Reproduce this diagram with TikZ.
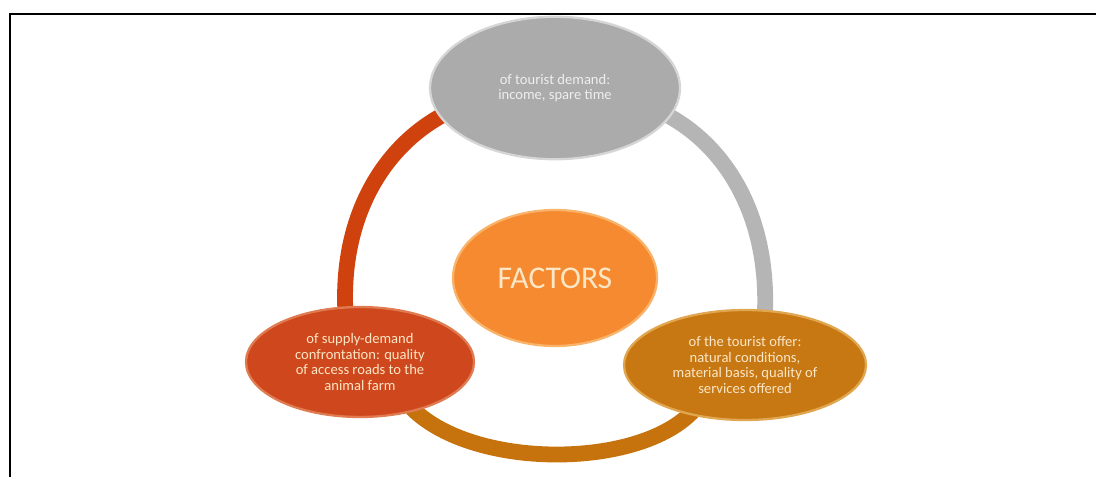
\documentclass[tikz,border=0pt]{standalone}
\usepackage{fontspec}
\setmainfont{Carlito}
\usetikzlibrary{shapes.geometric,backgrounds}

\definecolor{demandfill}{HTML}{ABABAB}
\definecolor{demandrim}{HTML}{D6D6D6}
\definecolor{demandtext}{HTML}{EEEEEE}
\definecolor{centrefill}{HTML}{F58A30}
\definecolor{centrerim}{HTML}{F9B36A}
\definecolor{confrontfill}{HTML}{CF471C}
\definecolor{confrontrim}{HTML}{E07A50}
\definecolor{offerfill}{HTML}{C77813}
\definecolor{offerrim}{HTML}{E0A650}
\definecolor{factortext}{HTML}{FBE6C6}
\definecolor{arcred}{HTML}{CF420E}
\definecolor{arcgray}{HTML}{B5B5B5}
\definecolor{arcbrown}{HTML}{C6720D}

\begin{document}
\begin{tikzpicture}[x=0.02cm, y=-0.02cm,
    factor/.style 2 args={ellipse, fill=#1, draw=#2, line width=1.3pt,
        inner sep=0pt, align=center, text=factortext,
        font=\fontsize{8.3}{8.9}\selectfont},
    ring/.style={line width=9pt, shorten <=-4pt, shorten >=-4pt}]
    \useasboundingbox (0,0) rectangle (1096,477);

    % frame
    \draw[line width=1.4pt] (10,477) -- (10,14) -- (1096,14);

    % the four factor ellipses
    \node[factor={demandfill}{demandrim}, text=demandtext,
        minimum width=5cm, minimum height=2.85cm] (demand) at (555,88)
        {of tourist demand:\\income, spare time};
    \node[factor={centrefill}{centrerim}, font=\fontsize{18}{20}\selectfont,
        minimum width=4.08cm, minimum height=2.72cm] (factors) at (555,278)
        {FACTORS};
    \node[factor={confrontfill}{confrontrim},
        minimum width=4.56cm, minimum height=2.2cm] (confront) at (360,362)
        {of supply-demand\\confrontation: quality\\of access roads to the\\animal farm};
    \node[factor={offerfill}{offerrim},
        minimum width=4.84cm, minimum height=2.2cm] (offer) at (745,365)
        {of the tourist offer:\\natural conditions,\\material basis, quality of\\services offered};

    % ring between them
    \begin{scope}[on background layer]
        \draw[ring, color=arcred] (demand.194) .. controls (385,145) and (340,215) .. (confront.105);
        \draw[ring, color=arcgray] (demand.346) .. controls (725,145) and (770,215) .. (offer.70);
        \draw[ring, color=arcbrown] (confront.318) .. controls (470,470) and (640,470) .. (offer.222);
    \end{scope}
\end{tikzpicture}
\end{document}
